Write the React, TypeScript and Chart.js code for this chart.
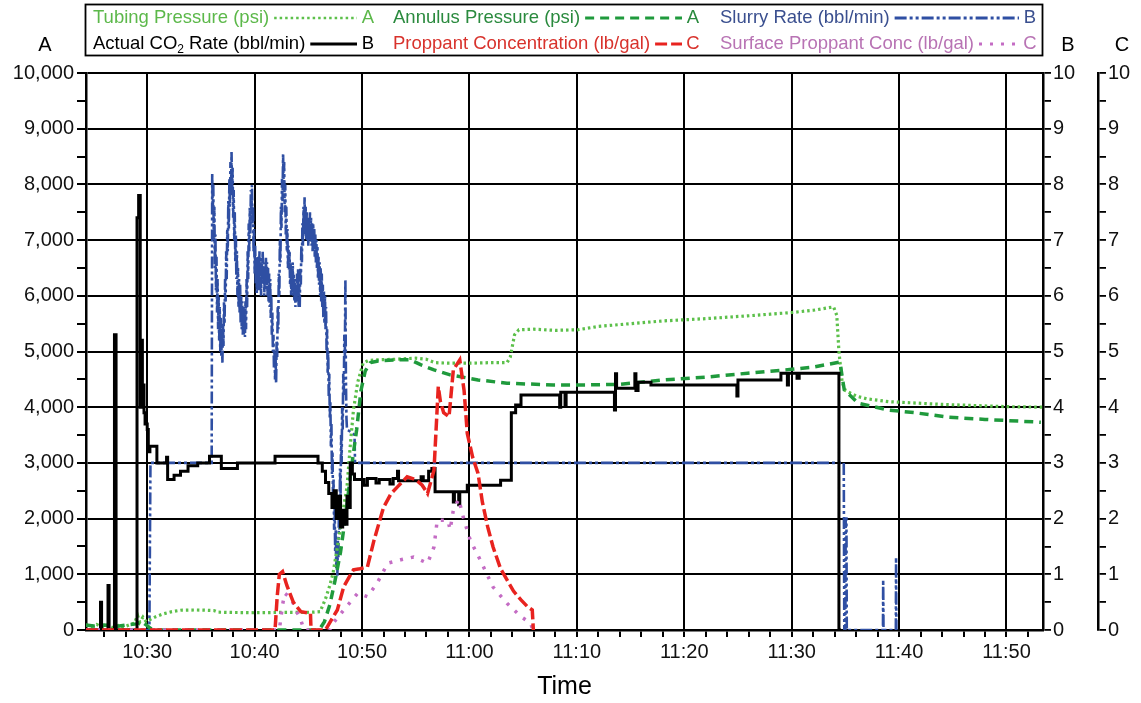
import React, { useEffect, useRef } from 'react';
import { Chart, registerables } from 'chart.js';

Chart.register(...registerables);

type P = [number, number];

// x values are minutes after 10:00
const xMinMinutes = 24.3;
const xMaxMinutes = 113.4;
const timeTickStepMinutes = 2;
const timeLabelEveryMinutes = 10;

const pressureAxisMax = 10000;
const rateAxisMax = 10;
const concAxisMax = 10;

const tubingPressure: P[] = [
  [24.3, 90], [24.8, 60], [25.3, 100], [25.8, 50], [26.3, 90], [26.8, 40], [27.3, 80], [27.8, 50],
  [28.3, 90], [28.8, 120], [29.1, 260], [29.3, 140], [29.6, 230], [29.9, 150], [30.3, 190], [30.8, 240],
  [31.5, 290], [32.3, 330], [33.1, 355], [34.5, 360], [35.5, 355], [36.2, 350], [36.6, 320], [38.0, 315],
  [40.0, 310], [42.0, 315], [44.0, 315], [45.5, 320], [46.1, 330], [46.6, 560], [47.0, 800], [47.3, 1020],
  [47.8, 1600], [48.2, 2100], [48.6, 2570], [48.9, 3300], [49.2, 3950], [49.6, 4450], [50.1, 4790],
  [50.6, 4840], [51.4, 4850], [53.0, 4860], [55.0, 4880], [56.0, 4860], [56.8, 4800], [58.0, 4790],
  [60.0, 4790], [62.0, 4800], [63.5, 4800], [63.8, 4900], [64.2, 5300], [64.6, 5390], [66.0, 5400],
  [68.0, 5380], [70.1, 5390], [72.0, 5450], [75.0, 5500], [78.1, 5550], [82.0, 5590], [85.9, 5640],
  [88.0, 5670], [90.0, 5700], [92.0, 5740], [93.9, 5800], [94.2, 5650], [94.4, 5000], [94.7, 4450],
  [95.0, 4300], [96.0, 4200], [97.0, 4150], [99.0, 4100], [101.0, 4080], [104.0, 4050], [107.0, 4030],
  [110.0, 4010], [113.4, 4000],
];

const annulusPressure: P[] = [
  [24.3, 90], [25.0, 70], [26.0, 90], [27.0, 60], [28.0, 90], [29.0, 110], [29.5, 150], [29.9, 90],
  [30.3, 30], [30.6, 0], [46.0, 0], [46.5, 150], [47.0, 450], [47.5, 900], [48.0, 1400], [48.5, 2100],
  [49.0, 2900], [49.5, 3600], [49.9, 4300], [50.3, 4650], [50.8, 4800], [51.5, 4830], [53.0, 4850],
  [54.5, 4850], [55.5, 4760], [56.7, 4670], [58.2, 4580], [60.8, 4490], [63.5, 4430], [67.8, 4400],
  [71.0, 4400], [74.0, 4410], [78.1, 4490], [82.0, 4540], [85.9, 4610], [90.0, 4680], [92.0, 4720],
  [94.5, 4810], [94.7, 4550], [94.9, 4310], [95.5, 4200], [96.2, 4070], [99.0, 3950], [101.5, 3900],
  [104.6, 3820], [108.0, 3780], [113.2, 3730],
];

const slurryRate: P[] = [
  [24.3, 0], [30.2, 0], [30.3, 3], [36.0, 3], [36.05, 8.2],
  [36.1, 7.5], [36.15, 8.0], [36.2, 7.0], [36.25, 7.6], [36.3, 6.5], [36.35, 7.1], [36.4, 6.1], [36.45, 6.7],
  [36.5, 5.7], [36.55, 6.3], [36.6, 5.4], [36.65, 6.0], [36.7, 5.2], [36.75, 5.8], [36.8, 5.0], [36.85, 5.6],
  [36.9, 4.9], [36.95, 5.4], [37.0, 4.8], [37.05, 5.5], [37.1, 5.1], [37.15, 5.9], [37.2, 5.5], [37.25, 6.3],
  [37.3, 5.9], [37.35, 6.8], [37.4, 6.3], [37.45, 7.2], [37.5, 6.8], [37.55, 7.7], [37.6, 7.2], [37.65, 8.1],
  [37.7, 7.6], [37.75, 8.4], [37.8, 7.8], [37.85, 8.58], [37.9, 7.9], [37.95, 8.3], [38.0, 7.4], [38.05, 7.9],
  [38.1, 7.0], [38.15, 7.5], [38.2, 6.6], [38.25, 7.1], [38.3, 6.3], [38.35, 6.8], [38.4, 6.0], [38.45, 6.5],
  [38.5, 5.8], [38.55, 6.3], [38.6, 5.7], [38.65, 6.2], [38.7, 5.5], [38.75, 6.0], [38.8, 5.4], [38.85, 5.9],
  [38.9, 5.3], [38.95, 5.8], [39.0, 5.3], [39.05, 5.7], [39.1, 5.26], [39.15, 5.9], [39.2, 5.4], [39.25, 6.3],
  [39.3, 5.8], [39.35, 6.8], [39.4, 6.3], [39.45, 7.3], [39.5, 6.8], [39.55, 7.6], [39.6, 7.1], [39.65, 7.9],
  [39.7, 7.4], [39.75, 7.99], [39.8, 7.3], [39.85, 7.6], [39.9, 6.8], [39.95, 7.2], [40.0, 6.4], [40.05, 6.9],
  [40.1, 6.2], [40.15, 6.7], [40.2, 6.05], [40.25, 6.6], [40.3, 6.1], [40.35, 6.7], [40.4, 6.2], [40.45, 6.8],
  [40.5, 6.1], [40.55, 6.6], [40.6, 6.0], [40.65, 6.7], [40.7, 6.2], [40.75, 6.8], [40.8, 6.3], [40.85, 6.6],
  [40.9, 6.0], [40.95, 6.5], [41.0, 6.1], [41.05, 6.7], [41.1, 6.2], [41.15, 6.6], [41.2, 6.0], [41.25, 6.5],
  [41.3, 5.9], [41.35, 6.4], [41.4, 5.8], [41.45, 6.3], [41.5, 5.6], [41.55, 6.0], [41.6, 5.3], [41.65, 5.7],
  [41.7, 5.0], [41.75, 5.3], [41.8, 4.7], [41.85, 5.0], [41.9, 4.5], [41.95, 4.9], [42.0, 4.43], [42.05, 5.2],
  [42.1, 4.9], [42.15, 5.8], [42.2, 5.4], [42.25, 6.4], [42.3, 6.0], [42.35, 7.0], [42.4, 6.6], [42.45, 7.6],
  [42.5, 7.2], [42.55, 8.1], [42.6, 7.7], [42.65, 8.56], [42.7, 7.9], [42.75, 8.4], [42.8, 7.5], [42.85, 8.0],
  [42.9, 7.1], [42.95, 7.6], [43.0, 6.8], [43.05, 7.2], [43.1, 6.5], [43.15, 6.9], [43.2, 6.46], [43.25, 6.8],
  [43.3, 6.2], [43.35, 6.6], [43.4, 6.0], [43.45, 6.5], [43.5, 6.1], [43.55, 6.6], [43.6, 6.0], [43.65, 6.4],
  [43.7, 5.9], [43.75, 6.3], [43.8, 5.8], [43.85, 6.2], [43.9, 5.9], [43.95, 6.4], [44.0, 6.0], [44.05, 6.5],
  [44.1, 5.8], [44.15, 6.2], [44.2, 5.8], [44.25, 6.5], [44.3, 6.2], [44.35, 6.9], [44.4, 6.6], [44.45, 7.3],
  [44.5, 6.9], [44.55, 7.6], [44.6, 7.1], [44.65, 7.77], [44.7, 7.2], [44.75, 7.6], [44.8, 7.0], [44.85, 7.5],
  [44.9, 7.0], [44.95, 7.4], [45.0, 6.9], [45.05, 7.4], [45.1, 7.0], [45.15, 7.5], [45.2, 7.1], [45.25, 7.4],
  [45.3, 6.9], [45.35, 7.3], [45.4, 6.8], [45.45, 7.3], [45.5, 6.9], [45.55, 7.2], [45.6, 6.7], [45.65, 7.1],
  [45.7, 6.6], [45.75, 7.0], [45.8, 6.5], [45.85, 6.9], [45.9, 6.3], [45.95, 6.7], [46.0, 6.2], [46.05, 6.6],
  [46.1, 6.0], [46.15, 6.5], [46.2, 5.9], [46.25, 6.4], [46.3, 5.8], [46.35, 6.2], [46.4, 5.6], [46.45, 6.1],
  [46.5, 5.5], [46.55, 6.0], [46.6, 5.4], [46.65, 5.8], [46.7, 5.0], [46.75, 5.4], [46.8, 4.6], [46.85, 5.0],
  [46.9, 4.2], [46.95, 4.6], [47.0, 3.8], [47.05, 4.1], [47.1, 3.3], [47.15, 3.7], [47.2, 2.8], [47.25, 3.2],
  [47.3, 2.3], [47.35, 2.7], [47.4, 1.8], [47.45, 2.2], [47.5, 1.4], [47.55, 1.8], [47.6, 1.1], [47.65, 1.5],
  [47.7, 0.95], [47.75, 1.6], [47.8, 1.3], [47.85, 2.2], [47.9, 1.8], [47.95, 2.9], [48.0, 2.4], [48.05, 3.5],
  [48.1, 3.0], [48.15, 4.0], [48.2, 3.6], [48.25, 4.6], [48.3, 4.2], [48.35, 5.3], [48.4, 4.9], [48.45, 6.3],
  [48.5, 4.5], [48.55, 3.8], [48.6, 3.6], [49.0, 3.55], [49.3, 3.5], [49.35, 3.0],
  [94.85, 3.0], [94.9, 0], [95.0, 0], [95.03, 2.0], [95.1, 2.0], [95.13, 0], [98.5, 0], [98.52, 0.9],
  [98.55, 0], [99.7, 0], [99.72, 1.3], [99.75, 0],
];

// stepped: each value holds until the next point
const co2Rate: P[] = [
  [24.3, 0], [25.65, 0.5], [25.75, 0], [26.35, 0.8], [26.45, 0], [26.95, 5.3], [27.1, 0],
  [29.05, 7.4], [29.2, 7.8], [29.35, 4.0], [29.45, 5.2], [29.55, 4.0], [29.6, 4.4], [29.7, 3.9],
  [29.8, 3.7], [30.0, 3.6], [30.1, 3.2], [30.25, 3.3], [30.9, 3.0], [31.8, 3.1], [31.9, 2.7],
  [32.5, 2.78], [33.1, 2.85], [33.8, 2.95], [34.7, 3.0], [35.8, 3.12], [36.9, 2.9], [38.4, 3.0],
  [41.9, 3.12], [45.9, 3.0], [46.3, 2.85], [46.6, 2.65], [46.9, 2.45], [47.2, 2.2], [47.4, 2.5],
  [47.6, 2.0], [47.8, 2.4], [48.0, 1.85], [48.2, 2.15], [48.4, 1.9], [48.6, 2.4], [48.75, 2.2],
  [48.9, 3.0], [49.1, 2.8], [49.3, 2.7], [50.2, 2.6], [50.5, 2.72], [51.3, 2.64], [51.6, 2.7],
  [52.6, 2.62], [52.9, 2.72], [53.3, 2.85], [53.4, 2.68], [55.5, 2.75], [55.7, 2.68], [56.2, 2.85],
  [56.5, 2.9], [56.8, 2.48], [58.5, 2.3], [58.6, 2.48], [59.0, 2.25], [59.1, 2.48], [59.8, 2.6],
  [62.9, 2.69], [63.9, 3.9], [64.3, 4.04], [64.8, 4.22], [68.4, 4.0], [68.5, 4.27], [68.9, 4.05],
  [69.0, 4.27], [73.5, 3.95], [73.6, 4.6], [73.7, 4.34], [75.4, 4.6], [75.5, 4.3], [75.7, 4.45],
  [76.9, 4.4], [84.9, 4.2], [85.0, 4.49], [89.0, 4.61], [89.6, 4.4], [89.7, 4.61], [90.5, 4.52],
  [90.7, 4.61], [94.4, 0], [94.6, 0],
];

const proppantConc: P[] = [
  [24.3, 0], [41.9, 0], [42.1, 0.6], [42.3, 1.0], [42.6, 1.05], [43.0, 0.8], [43.6, 0.5], [44.0, 0.4],
  [44.3, 0.33], [45.2, 0.3], [45.25, 0], [46.6, 0], [47.2, 0.2], [47.7, 0.36], [48.3, 0.78], [48.8, 0.95],
  [49.2, 1.08], [49.8, 1.1], [50.5, 1.13], [51.1, 1.6], [52.0, 2.2], [52.7, 2.45], [53.3, 2.57],
  [54.2, 2.75], [55.0, 2.7], [55.6, 2.6], [56.1, 2.45], [56.7, 2.87], [57.1, 4.37], [57.3, 4.1],
  [57.6, 3.9], [58.1, 3.83], [58.5, 4.67], [59.1, 4.85], [59.5, 4.3], [59.8, 3.53], [60.3, 3.1],
  [60.8, 2.81], [61.2, 2.3], [61.7, 1.85], [62.2, 1.49], [62.9, 1.1], [63.5, 0.9], [64.1, 0.7],
  [64.8, 0.54], [65.4, 0.42], [65.85, 0.36], [65.95, 0],
];

const surfaceProppantConc: P[] = [
  [24.3, 0], [42.3, 0], [42.6, 0.45], [42.8, 0.66], [43.2, 0.6], [43.6, 0.48], [44.0, 0.3], [44.3, 0.18],
  [44.6, 0], [47.0, 0], [47.3, 0.12], [48.3, 0.36], [49.6, 0.66], [50.5, 0.6], [51.4, 0.84], [52.4, 1.2],
  [53.6, 1.26], [54.8, 1.31], [56.1, 1.2], [56.7, 1.49], [57.0, 1.97], [58.0, 1.97], [58.2, 1.8],
  [58.5, 2.15], [59.0, 2.35], [59.5, 1.97], [60.1, 1.6], [61.0, 1.26], [62.2, 0.77], [63.5, 0.48],
  [64.8, 0.24], [65.7, 0.12], [65.9, 0],
];

const FONT = '"Liberation Sans", Arial, Helvetica, sans-serif';

const C_TUBING = '#5cc04a';
const C_ANNULUS = '#1f9a3c';
const C_SLURRY = '#2f4fa3';
const C_CO2 = '#000000';
const C_PROP = '#e8231f';
const C_SURF = '#c46cc4';

const DASH_TUBING = [2.5, 3];
const DASH_ANNULUS = [9, 6];
const DASH_SLURRY = [12, 3, 3, 3, 3, 3];
const DASH_PROP = [12, 4];
const DASH_SURF = [3, 8];

type Seg = { t: string; sub?: boolean };
type LegendEntry = {
  parts: Seg[];
  textColor: string;
  line: string;
  dash: number[];
  width: number;
  letter: string;
  col: number;
  row: number;
};

const legendEntries: LegendEntry[] = [
  { parts: [{ t: 'Tubing Pressure (psi)' }], textColor: '#5cb84a', line: C_TUBING, dash: DASH_TUBING, width: 2.5, letter: 'A', col: 0, row: 0 },
  { parts: [{ t: 'Annulus Pressure (psi)' }], textColor: '#2a8a3e', line: C_ANNULUS, dash: DASH_ANNULUS, width: 3, letter: 'A', col: 1, row: 0 },
  { parts: [{ t: 'Slurry Rate (bbl/min)' }], textColor: '#3a4f8f', line: C_SLURRY, dash: DASH_SLURRY, width: 3, letter: 'B', col: 2, row: 0 },
  { parts: [{ t: 'Actual CO' }, { t: '2', sub: true }, { t: ' Rate (bbl/min)' }], textColor: '#000', line: C_CO2, dash: [], width: 3, letter: 'B', col: 0, row: 1 },
  { parts: [{ t: 'Proppant Concentration (lb/gal)' }], textColor: '#d8322c', line: C_PROP, dash: DASH_PROP, width: 3, letter: 'C', col: 1, row: 1 },
  { parts: [{ t: 'Surface Proppant Conc (lb/gal)' }], textColor: '#b873b4', line: C_SURF, dash: DASH_SURF, width: 3, letter: 'C', col: 2, row: 1 },
];

const colTextX = [93, 393, 720];
const colLetterX = [368, 693, 1030];
const rowY = [18, 44];

const overlayPlugin = {
  id: 'overlay',
  afterDraw(chart: any) {
    const ctx: CanvasRenderingContext2D = chart.ctx;
    ctx.save();
    ctx.setLineDash([]);
    ctx.strokeStyle = '#000';
    ctx.lineWidth = 1.8;
    ctx.strokeRect(85.5, 4.5, 957, 51);

    ctx.textBaseline = 'middle';
    for (const e of legendEntries) {
      let x = colTextX[e.col];
      const y = rowY[e.row];
      ctx.fillStyle = e.textColor;
      ctx.textAlign = 'left';
      for (const p of e.parts) {
        ctx.font = p.sub ? `12px ${FONT}` : `18.5px ${FONT}`;
        ctx.fillText(p.t, x, p.sub ? y + 6 : y);
        x += ctx.measureText(p.t).width;
      }
      const lx = colLetterX[e.col];
      const x0 = x + 5;
      const x1 = lx - 11;
      ctx.beginPath();
      ctx.strokeStyle = e.line;
      ctx.lineWidth = e.width;
      ctx.setLineDash(e.dash);
      ctx.moveTo(x0, y);
      ctx.lineTo(x1, y);
      ctx.stroke();
      ctx.setLineDash([]);
      ctx.font = `18.5px ${FONT}`;
      ctx.textAlign = 'center';
      ctx.fillStyle = e.textColor;
      ctx.fillText(e.letter, lx, y);
    }

    ctx.fillStyle = '#000';
    ctx.font = `20px ${FONT}`;
    ctx.textAlign = 'center';
    ctx.fillText('A', 45, 45);
    ctx.fillText('B', 1068, 45);
    ctx.fillText('C', 1122, 45);
    ctx.restore();
  },
};

const toXY = (arr: P[]) => arr.map(([x, y]) => ({ x, y }));

const fmtTime = (v: number) => {
  const h = 10 + Math.floor(v / 60);
  const m = Math.round(v % 60);
  return `${h}:${m < 10 ? '0' + m : m}`;
};

export default function App() {
  const ref = useRef<HTMLCanvasElement | null>(null);

  useEffect(() => {
    document.body.style.margin = '0';
    if (!ref.current) return;
    Chart.defaults.font.family = FONT;
    Chart.defaults.color = '#111';

    const common = { pointRadius: 0, pointHoverRadius: 0, fill: false, tension: 0, borderCapStyle: 'butt' as const };

    const chart = new Chart(ref.current, {
      type: 'line',
      data: {
        datasets: [
          { ...common, label: 'Proppant Concentration (lb/gal)', data: toXY(proppantConc), yAxisID: 'yC', borderColor: C_PROP, borderWidth: 3.5, borderDash: DASH_PROP },
          { ...common, label: 'Surface Proppant Conc (lb/gal)', data: toXY(surfaceProppantConc), yAxisID: 'yC', borderColor: C_SURF, borderWidth: 3.5, borderDash: DASH_SURF },
          { ...common, label: 'Actual CO2 Rate (bbl/min)', data: toXY(co2Rate), yAxisID: 'yB', borderColor: C_CO2, borderWidth: 3, stepped: true },
          { ...common, label: 'Annulus Pressure (psi)', data: toXY(annulusPressure), yAxisID: 'yA', borderColor: C_ANNULUS, borderWidth: 3.5, borderDash: DASH_ANNULUS },
          { ...common, label: 'Tubing Pressure (psi)', data: toXY(tubingPressure), yAxisID: 'yA', borderColor: C_TUBING, borderWidth: 3.2, borderDash: DASH_TUBING },
          { ...common, label: 'Slurry Rate (bbl/min)', data: toXY(slurryRate), yAxisID: 'yB', borderColor: C_SLURRY, borderWidth: 2.6, borderDash: DASH_SLURRY },
        ] as any,
      },
      options: {
        animation: false,
        responsive: false,
        events: [],
        layout: { padding: { top: 73, left: 0, right: 0, bottom: 0 } },
        plugins: { legend: { display: false }, tooltip: { enabled: false } },
        scales: {
          x: {
            type: 'linear',
            position: 'bottom',
            min: xMinMinutes,
            max: xMaxMinutes,
            afterFit: (s: any) => { s.height = 73; },
            border: { display: true, color: '#000', width: 2.5 },
            grid: {
              color: (c: any) => (c.tick && c.tick.value % timeLabelEveryMinutes === 0 ? '#000' : 'rgba(0,0,0,0)'),
              lineWidth: 2,
              tickColor: '#000',
              tickLength: 7,
              drawTicks: true,
            },
            ticks: {
              stepSize: timeTickStepMinutes,
              includeBounds: false,
              autoSkip: false,
              maxRotation: 0,
              minRotation: 0,
              padding: 3,
              color: '#111',
              font: { size: 20 },
              callback: (v: any) => (Number(v) % timeLabelEveryMinutes === 0 ? fmtTime(Number(v)) : ''),
            },
            title: { display: true, text: 'Time', color: '#000', font: { size: 25 }, padding: { top: 0, bottom: 1 } },
          },
          yA: {
            type: 'linear',
            position: 'left',
            min: 0,
            max: pressureAxisMax,
            afterFit: (s: any) => { s.width = 86; },
            border: { display: true, color: '#000', width: 2.5 },
            grid: {
              color: (c: any) => (c.tick && c.tick.value % 1000 === 0 ? '#000' : 'rgba(0,0,0,0)'),
              lineWidth: 2,
              tickColor: '#000',
              tickLength: 9,
            },
            ticks: {
              stepSize: 500,
              autoSkip: false,
              padding: 3,
              color: '#111',
              font: { size: 20 },
              callback: (v: any) => (Number(v) % 1000 === 0 ? Number(v).toLocaleString('en-US') : ''),
            },
          },
          yB: {
            type: 'linear',
            position: 'right',
            min: 0,
            max: rateAxisMax,
            afterFit: (s: any) => { s.width = 55; },
            border: { display: true, color: '#000', width: 2.5 },
            grid: { drawOnChartArea: false, tickColor: '#000', tickLength: 8, lineWidth: 1.8 },
            ticks: {
              stepSize: 0.5,
              autoSkip: false,
              padding: 2,
              color: '#111',
              font: { size: 20 },
              callback: (v: any) => (Number(v) % 1 === 0 ? String(v) : ''),
            },
          },
          yC: {
            type: 'linear',
            position: 'right',
            min: 0,
            max: concAxisMax,
            afterFit: (s: any) => { s.width = 43; },
            border: { display: true, color: '#000', width: 2.5 },
            grid: { drawOnChartArea: false, tickColor: '#000', tickLength: 8, lineWidth: 1.8 },
            ticks: {
              stepSize: 0.5,
              autoSkip: false,
              padding: 2,
              color: '#111',
              font: { size: 20 },
              callback: (v: any) => (Number(v) % 1 === 0 ? String(v) : ''),
            },
          },
        },
      } as any,
      plugins: [overlayPlugin],
    });

    return () => chart.destroy();
  }, []);

  return (
    <div style={{ position: 'fixed', left: 0, top: 0, width: 1141, height: 703, background: '#fff' }}>
      <canvas ref={ref} width={1141} height={703} style={{ display: 'block', width: 1141, height: 703 }} />
    </div>
  );
}
